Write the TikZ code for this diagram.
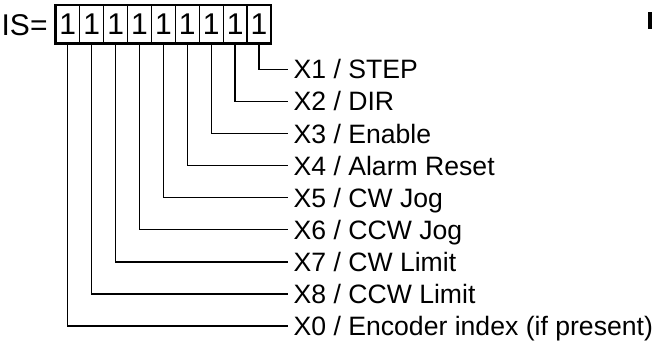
\documentclass[tikz,border=0pt]{standalone}
\usepackage{fontspec}
\setmainfont{Liberation Sans}
\usepackage{tikz}

\begin{document}
\begin{tikzpicture}[x=0.5pt, y=-0.5pt, line width=0.65pt,
        every node/.style={inner sep=0pt, text height=9.5pt, text depth=0pt, font=\fontsize{13.3pt}{16pt}\selectfont},
        big/.style={text height=10.7pt, font=\fontsize{15pt}{18pt}\selectfont},
        cell/.style={big, draw, minimum width=11.95pt, minimum height=19pt},
        lbl/.style={anchor=west, inner xsep=2.5pt}]
        \useasboundingbox (0,0) rectangle (654,343);

        \node[big, anchor=west] (is) at (1,25) {IS=};
        % bit cells, left to right
        \node[cell] (c0) at (67.8,24) {1};
        \node[cell] (c8) at (91.7,24) {1};
        \node[cell] (c7) at (115.6,24) {1};
        \node[cell] (c6) at (139.5,24) {1};
        \node[cell] (c5) at (163.4,24) {1};
        \node[cell] (c4) at (187.3,24) {1};
        \node[cell] (c3) at (211.2,24) {1};
        \node[cell] (c2) at (235.1,24) {1};
        \node[cell] (c1) at (259.0,24) {1};
        \draw[line width=1.4pt] (c0.north west) -- (c0.south west) -- (c1.south east);

        \node[lbl] (x1) at (288,69.3) {X1 / STEP};
        \node[lbl] (x2) at (288,101.4) {X2 / DIR};
        \node[lbl] (x3) at (288,133.5) {X3 / Enable};
        \node[lbl] (x4) at (288,165.6) {X4 / Alarm Reset};
        \node[lbl] (x5) at (288,197.7) {X5 / CW Jog};
        \node[lbl] (x6) at (288,229.8) {X6 / CCW Jog};
        \node[lbl] (x7) at (288,261.9) {X7 / CW Limit};
        \node[lbl] (x8) at (288,294.0) {X8 / CCW Limit};
        \node[lbl] (x0) at (288,326.1) {X0 / Encoder index (if present)};

        \draw (c1.south) |- (x1.west);
        \draw (c2.south) |- (x2.west);
        \draw (c3.south) |- (x3.west);
        \draw (c4.south) |- (x4.west);
        \draw (c5.south) |- (x5.west);
        \draw (c6.south) |- (x6.west);
        \draw (c7.south) |- (x7.west);
        \draw (c8.south) |- (x8.west);
        \draw (c0.south) |- (x0.west);

        \fill (648.3,12.3) rectangle (652.3,29.3);
    \end{tikzpicture}
\end{document}
